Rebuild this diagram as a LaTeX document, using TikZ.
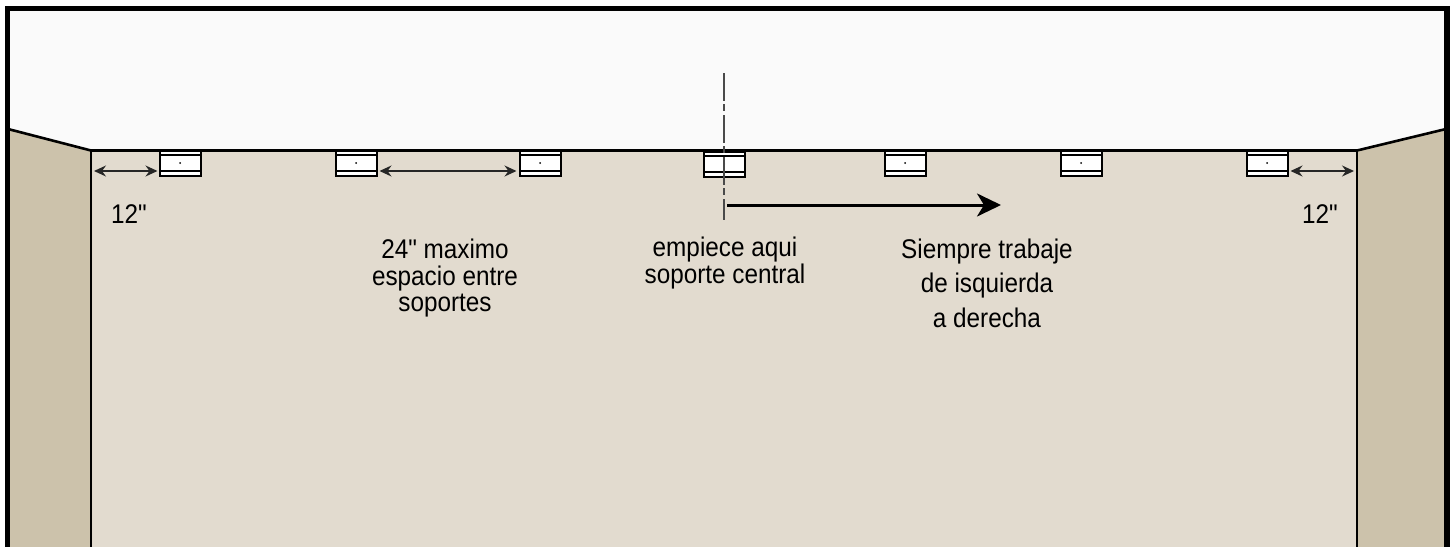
\documentclass[tikz,border=0pt]{standalone}
\usepackage{fontspec}
\newfontfamily\labfont{Liberation Sans}[FakeStretch=0.9]
\usetikzlibrary{arrows.meta}
\definecolor{wallfront}{HTML}{E2DBCF}
\definecolor{wallside}{HTML}{CCC2AB}
\definecolor{ceil}{HTML}{FAFAFA}
\definecolor{cline}{HTML}{4A4A4A}
\tikzset{
  x=1pt,y=-1pt,
  bracket/.style={draw=black,fill=white,line width=2pt,minimum width=41pt,minimum height=25pt,inner sep=0pt,outer sep=0pt,anchor=north west},
  dim/.style={draw=black!85,line width=1.4pt,{Stealth[length=12pt,width=11pt,inset=4pt]}-{Stealth[length=12pt,width=11pt,inset=4pt]}},
  label/.style={font=\labfont\fontsize{27}{26.5}\selectfont,align=center,inner sep=0pt,anchor=base},
  edge/.style={draw=black,line width=2.6pt},
}
\begin{document}
\begin{tikzpicture}
\useasboundingbox (0,0) rectangle (1453,546);
\fill[white] (0,0) rectangle (1453,546);
\fill[ceil] (7,8) rectangle (1447,550);
\fill[wallfront] (92,150.5) rectangle (1356,550);
\fill[wallside] (8,129) -- (92,150.5) -- (92,550) -- (8,550) -- cycle;
\fill[wallside] (1446,129) -- (1356,150.5) -- (1356,550) -- (1446,550) -- cycle;
\coordinate (cl) at (92,171);
\coordinate (cr) at (1356,171);
\draw[edge] (8,129) -- (91,150.5) -- (1357,150.5) -- (1446,129);
\draw[edge] (91,150.5) -- (91,550);
\draw[edge] (1357,150.5) -- (1357,550);
\draw[black,line width=5.6pt] (7.5,550) -- (7.5,8.5) -- (1447,8.5) -- (1447,550);
\foreach \n/\xx/\yy in {a/159.5/151,b/335.5/151,c/519.5/151,d/703.5/152,e/884.5/151,f/1060.5/151,g/1246.5/151}{
  \node[bracket] (\n) at (\xx,\yy) {};
  \draw[black,line width=2pt] (\xx,\yy+4) -- ++(41,0) (\xx,\yy+20) -- ++(41,0);
  \fill[black] (\xx+20.5,\yy+12) circle (1);
}
\draw[edge] (91,150.5) -- (1357,150.5);
\draw[dim] ([xshift=2pt]cl) -- ([xshift=-2pt]a.west |- cl);
\draw[dim] ([xshift=3pt]b.east |- cl) -- ([xshift=-3pt]c.west |- cl);
\draw[dim] ([xshift=3pt]g.east |- cl) -- ([xshift=-2pt]cr);
\coordinate (ct) at (723.5,73);
\coordinate (cb) at (723.5,220);
\draw[cline,line width=2pt,dash pattern=on 28pt off 3pt on 7pt off 4pt] (ct) -- (cb);
\coordinate (as) at (727,205);
\coordinate (ae) at (1001,205);
\draw[black,line width=3pt,-{Stealth[length=24pt,width=23pt,inset=7pt]}] (as) -- (ae);
\node[label] (l1) at (129,223.5) {12"};
\node[label] (l2) at (1320,223.5) {12"};
\node[label] (l3) at (445,311.5) {24" maximo\\espacio entre\\soportes};
\node[label,font=\labfont\fontsize{27}{25}\selectfont] (l4) at (725,283) {empiece aqui\\soporte central};
\node[label,font=\labfont\fontsize{27}{34.5}\selectfont] (l5) at (987,327) {Siempre trabaje\\de isquierda\\a derecha};
\end{tikzpicture}
\end{document}
